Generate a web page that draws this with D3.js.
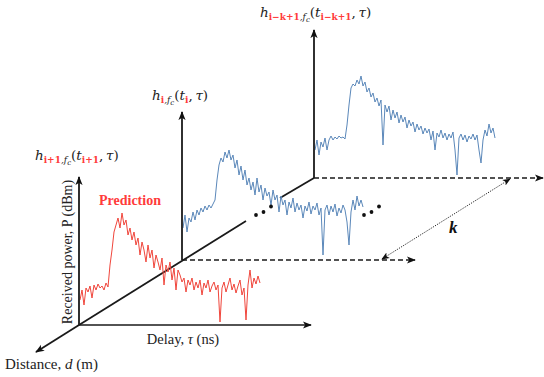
<!DOCTYPE html>
<html>
<head>
<meta charset="utf-8">
<script src="https://cdn.jsdelivr.net/npm/d3@7"></script>
<style>
  html, body { margin: 0; padding: 0; background: #fff; }
  svg { display: block; font-family: "Liberation Serif", "DejaVu Serif", serif; }
</style>
</head>
<body>
<div id="graph"></div>
<script>
// received power (dBm) of each snapshot, sampled uniformly over the delay window
const predicted = [-107.5, -102.5, -110, -101.5, -103.5, -100.5, -106.5, -100, -102.5, -99.5,
  -101.5, -100.5, -102.5, -99, -101, -90, -82.5, -73.5, -70, -66.5,
  -71.5, -64, -70, -67.5, -75, -71.5, -77.5, -73.5, -80, -76.5,
  -85, -78.5, -82.5, -88.5, -80, -86.5, -82.5, -91.5, -85, -88.5,
  -92.5, -86.5, -100, -90, -93.5, -88.5, -97.5, -91.5, -102.5, -92.5,
  -95, -98.5, -96.5, -103.5, -97.5, -100, -96.5, -102.5, -98.5, -101.5,
  -97.5, -105, -99, -101.5, -97.5, -103.5, -100.5, -98.5, -102.5, -100,
  -118.5, -101.5, -98.5, -103.5, -100, -96.5, -102.5, -99.5, -104, -100.5,
  -97.5, -105, -101.5, -117.5, -100, -92.5, -101.5, -96.5, -99.5, -95.5, -99];

const current = [-104, -97.5, -106, -99, -101, -96, -100, -95, -97.5, -94,
  -96, -93, -95, -92.5, -94, -92, -90, -80, -72.5, -69,
  -71, -66, -69, -65, -70, -67.5, -74, -70, -77.5, -73,
  -80, -75, -82.5, -79, -85, -81, -87.5, -79, -86, -82.5,
  -90, -84, -88, -86, -92.5, -85, -90, -87.5, -96, -88,
  -92.5, -90, -97.5, -91, -94, -89, -96, -91.5, -95, -92.5,
  -99, -93, -95.5, -91, -97, -93, -95, -91.5, -97.5, -94,
  -117.5, -95, -92.5, -97.5, -93, -96, -92, -98, -94, -96.5,
  -92.5, -95, -101, -112.5, -96, -90, -95, -88, -93, -90, -93.5];

const oldest = [-106, -101, -108.5, -102, -104.5, -100, -106, -101, -99, -101,
  -99.5, -100.5, -99, -100, -99.5, -100.5, -93.5, -83.5, -75, -73,
  -74, -71, -73, -69, -74, -72, -77, -75, -79.5, -77.5,
  -82, -80, -84, -81, -103.5, -83.5, -87, -84, -91, -86,
  -90, -87, -92.5, -88.5, -92, -89.5, -95, -91, -94, -92,
  -97, -93, -96, -94, -98, -95, -97.5, -95.5, -101, -96.5,
  -106, -97.5, -99.5, -96, -100, -97.5, -101, -98, -100, -97,
  -106, -118.5, -100, -98, -101, -98.5, -102, -99, -100.5, -98,
  -101, -98.5, -106, -112.5, -101, -96, -99, -93, -97.5, -95, -100];

const delays = d3.range(predicted.length).map(i => i * 300 / (predicted.length - 1));
const delayDomain = [0, 300];
const powerDomain = [-120, -46];

const W = 544, H = 377;
const svg = d3.select("#graph").append("svg").attr("width", W).attr("height", H);

const defs = svg.append("defs");
function marker(id, size) {
  defs.append("marker")
    .attr("id", id)
    .attr("viewBox", "0 0 10 10")
    .attr("refX", 9).attr("refY", 5)
    .attr("markerWidth", size).attr("markerHeight", size)
    .attr("markerUnits", "userSpaceOnUse")
    .attr("orient", "auto-start-reverse")
    .append("path").attr("d", "M0,1 L10,5 L0,9 L2.5,5 Z").attr("fill", "#111");
}
marker("arr", 9);
marker("arrSmall", 8);

const ink = "#1a1a1a";
const panelW = 180, panelH = 148;

// panels, front to back
const panels = [
  { key: "front", ox: 79, oy: 325, data: predicted, color: "#f0463c", dashed: false, axisEnd: 311 },
  { key: "mid",   ox: 182, oy: 260, data: current,   color: "#5b88ba", dashed: true,  axisEnd: 415 },
  { key: "back",  ox: 314, oy: 178, data: oldest,    color: "#5b88ba", dashed: true,  axisEnd: 543 }
];

// depth (distance) axis through all panel origins
const depth = svg.append("g").attr("stroke", ink).attr("stroke-width", 1.8);
depth.append("line").attr("x1", 79).attr("y1", 325).attr("x2", 36).attr("y2", 352)
  .attr("marker-end", "url(#arr)");
depth.append("line").attr("x1", 79).attr("y1", 325).attr("x2", 246).attr("y2", 221);
depth.append("line").attr("x1", 280).attr("y1", 198).attr("x2", 314).attr("y2", 178);

panels.slice().reverse().forEach(p => {
  const x = d3.scaleLinear().domain(delayDomain).range([p.ox + 1, p.ox + 1 + panelW]);
  const y = d3.scaleLinear().domain(powerDomain).range([p.oy, p.oy - panelH]);
  const g = svg.append("g").attr("class", p.key);

  g.append("path")
    .datum(p.data)
    .attr("fill", "none")
    .attr("stroke", p.color)
    .attr("stroke-width", 1)
    .attr("stroke-linejoin", "round")
    .attr("d", d3.line().x((d, i) => x(delays[i])).y(d => y(d)));

  // power axis
  g.append("line")
    .attr("x1", p.ox).attr("y1", y(powerDomain[0]))
    .attr("x2", p.ox).attr("y2", y(powerDomain[1]))
    .attr("stroke", ink).attr("stroke-width", 1.8)
    .attr("marker-end", "url(#arr)");

  // delay axis
  g.append("line")
    .attr("x1", p.ox).attr("y1", p.oy)
    .attr("x2", p.axisEnd).attr("y2", p.oy)
    .attr("stroke", ink).attr("stroke-width", 1.6)
    .attr("stroke-dasharray", p.dashed ? "5,3" : null)
    .attr("marker-end", "url(#arr)");
});

// ellipsis dots between snapshots
const dotSets = [[256, 215], [364, 215]];
dotSets.forEach(([cx, cy]) => {
  [[0, 0], [7.5, -3], [15, -8.5]].forEach(([dx, dy]) => {
    svg.append("circle").attr("cx", cx + dx).attr("cy", cy + dy).attr("r", 1.9).attr("fill", "#111");
  });
});

// k span
svg.append("line")
  .attr("x1", 382).attr("y1", 259).attr("x2", 510).attr("y2", 179)
  .attr("stroke", "#222").attr("stroke-width", 1)
  .attr("stroke-dasharray", "1.2,1.3")
  .attr("marker-start", "url(#arrSmall)")
  .attr("marker-end", "url(#arrSmall)");
svg.append("text").attr("x", 449).attr("y", 233)
  .attr("font-size", 17).attr("font-weight", "bold").attr("font-style", "italic")
  .attr("fill", "#111").text("k");

// text labels
const red = "#ff3b3b";
function hLabel(x, y, sub) {
  const t = svg.append("text").attr("x", x).attr("y", y)
    .attr("font-family", "'DejaVu Serif', serif").attr("font-size", 13.5).attr("fill", "#222");
  t.append("tspan").attr("font-style", "italic").text("h");
  t.append("tspan").attr("font-size", 9).attr("font-weight", "bold").attr("fill", red).attr("dy", 3).text(sub);
  t.append("tspan").attr("font-size", 9).attr("font-style", "italic").text(",f");
  t.append("tspan").attr("font-size", 7).attr("font-style", "italic").attr("dy", 1.5).text("c");
  t.append("tspan").attr("dy", -4.5).text("(");
  t.append("tspan").attr("font-style", "italic").text("t");
  t.append("tspan").attr("font-size", 9).attr("font-weight", "bold").attr("fill", red).attr("dy", 3).text(sub);
  t.append("tspan").attr("dy", -3).text(",\u2009");
  t.append("tspan").attr("font-style", "italic").text("τ");
  t.append("tspan").text(")");
}
hLabel(35, 160, "i+1");
hLabel(152, 100, "i");
hLabel(260, 17, "i−k+1");

svg.append("text").attr("x", 99).attr("y", 205)
  .attr("font-size", 14).attr("font-weight", "bold").attr("fill", red).text("Prediction");

svg.append("text")
  .attr("transform", "translate(72,252) rotate(-90)")
  .attr("text-anchor", "middle").attr("font-size", 14).attr("fill", "#222")
  .text("Received power, P (dBm)");

const dl = svg.append("text").attr("x", 183).attr("y", 344)
  .attr("text-anchor", "middle").attr("font-size", 14.5).attr("fill", "#222");
dl.append("tspan").text("Delay, ");
dl.append("tspan").attr("font-style", "italic").text("τ");
dl.append("tspan").text(" (ns)");

const ds = svg.append("text").attr("x", 5).attr("y", 369)
  .attr("font-size", 15).attr("fill", "#222");
ds.append("tspan").text("Distance, ");
ds.append("tspan").attr("font-style", "italic").text("d");
ds.append("tspan").text(" (m)");
</script>
</body>
</html>
